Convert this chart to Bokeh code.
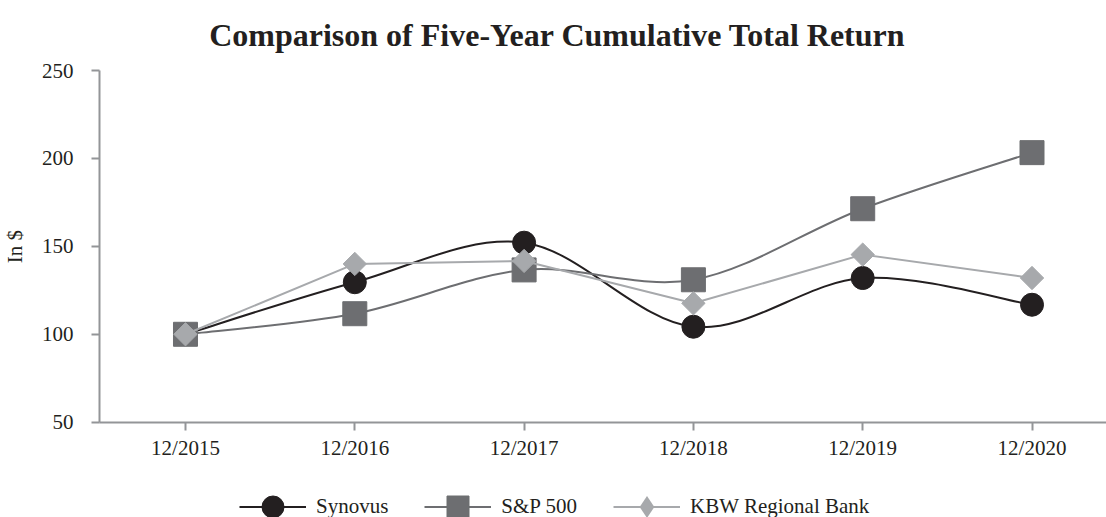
from bokeh.plotting import figure
from bokeh.models import (Range1d, FixedTicker, Legend, LegendItem, Label,
                          ColumnDataSource)
from bokeh.embed import file_html
from bokeh.resources import INLINE
import math

years = ["12/2015", "12/2016", "12/2017", "12/2018", "12/2019", "12/2020"]
synovus = [100, 129.6, 152.1, 104.3, 132, 116.8]
sp500 = [100, 111.7, 136.6, 131, 171.4, 203.3]
kbw = [100, 140, 141.7, 117.6, 145.3, 132]
y_ticks = [50, 100, 150, 200, 250]

C_SYN = "#231f20"
C_SP = "#6d6e71"
C_KBW = "#a7a9ac"
AXIS = "#939598"
FONT = "Liberation Serif"

# the frame covers the whole canvas; axes sit at fixed locations inside it
p = figure(width=1106, height=517, output_backend="svg", toolbar_location=None,
           x_range=Range1d(-1.0927, 5.440), y_range=Range1d(-4.19, 289.81),
           min_border_left=0, min_border_right=0, min_border_top=0,
           min_border_bottom=0)
p.outline_line_color = None
p.xgrid.visible = False
p.ygrid.visible = False
p.background_fill_color = "white"
p.border_fill_color = "white"

xs = list(range(len(years)))


def bezier_source(x, y):
    # smooth curve through the data points (Catmull-Rom style control points)
    n = len(x)
    d = dict(x0=[], y0=[], x1=[], y1=[], cx0=[], cy0=[], cx1=[], cy1=[])
    for i in range(n - 1):
        i0 = max(i - 1, 0)
        i3 = min(i + 2, n - 1)
        d["x0"].append(x[i]); d["y0"].append(y[i])
        d["x1"].append(x[i + 1]); d["y1"].append(y[i + 1])
        d["cx0"].append(x[i] + (x[i + 1] - x[i0]) / 6.0)
        d["cy0"].append(y[i] + (y[i + 1] - y[i0]) / 6.0)
        d["cx1"].append(x[i + 1] - (x[i3] - x[i]) / 6.0)
        d["cy1"].append(y[i + 1] - (y[i3] - y[i]) / 6.0)
    return ColumnDataSource(d)


# Synovus
syn_l = p.bezier("x0", "y0", "x1", "y1", "cx0", "cy0", "cx1", "cy1",
                 source=bezier_source(xs, synovus), line_color=C_SYN,
                 line_width=2)
syn_m = p.scatter(xs, synovus, marker="circle", size=23, fill_color=C_SYN,
                  line_color=C_SYN)
# S&P 500
sp_l = p.bezier("x0", "y0", "x1", "y1", "cx0", "cy0", "cx1", "cy1",
                source=bezier_source(xs, sp500), line_color=C_SP,
                line_width=2)
sp_m = p.scatter(xs, sp500, marker="square", size=24, fill_color=C_SP,
                 line_color=C_SP)
# KBW
kbw_l = p.line(xs, kbw, line_color=C_KBW, line_width=2)
kbw_m = p.scatter(xs, kbw, marker="square", size=16.5, angle=math.pi / 4,
                  fill_color=C_KBW, line_color=C_KBW)
# diamond used only for the legend swatch (zero size on the plot)
kbw_lg = p.scatter(xs, kbw, marker="diamond", size=0, fill_color=C_KBW,
                   line_color=None)

legend = Legend(items=[
    LegendItem(label="Synovus", renderers=[syn_l, syn_m]),
    LegendItem(label="S&P 500", renderers=[sp_l, sp_m]),
    LegendItem(label="KBW Regional Bank", renderers=[kbw_l, kbw_lg]),
], orientation="horizontal", location=(239, -16.5), glyph_width=67,
    glyph_height=55, label_standoff=10, spacing=36, padding=0, margin=0,
    border_line_color=None, background_fill_alpha=0,
    label_text_font=FONT, label_text_font_size="21px",
    label_text_color=C_SYN)
p.add_layout(legend, "center")

# axes
for ax in (p.xaxis[0], p.yaxis[0]):
    ax.axis_line_color = AXIS
    ax.axis_line_width = 2
    ax.major_tick_line_color = AXIS
    ax.major_tick_line_width = 2
    ax.major_tick_out = 8
    ax.major_tick_in = 0
    ax.minor_tick_line_color = None
    ax.major_label_text_font = FONT
    ax.major_label_text_font_size = "21px"
    ax.major_label_text_color = C_SYN

p.xaxis.fixed_location = 50
p.xaxis.bounds = (-0.508, 5.44)
p.xaxis.ticker = FixedTicker(ticks=xs)
p.xaxis.major_label_overrides = {i: s for i, s in enumerate(years)}
p.xaxis.major_label_standoff = 6

p.yaxis.fixed_location = -0.508
p.yaxis.bounds = (50, 250)
p.yaxis.ticker = FixedTicker(ticks=y_ticks)
p.yaxis.major_label_standoff = 18
p.yaxis.axis_label = "In $"
p.yaxis.axis_label_text_font = FONT
p.yaxis.axis_label_text_font_size = "21px"
p.yaxis.axis_label_text_font_style = "normal"
p.yaxis.axis_label_text_color = C_SYN
p.yaxis.axis_label_standoff = 12

title = Label(x=2.197, y=270.3,
              text="Comparison of Five-Year Cumulative Total Return",
              text_font=FONT, text_font_size="32px", text_font_style="bold",
              text_color=C_SYN, text_align="center",
              text_baseline="alphabetic")
p.add_layout(title, "center")

open("out.html", "w").write(file_html(p, INLINE))
